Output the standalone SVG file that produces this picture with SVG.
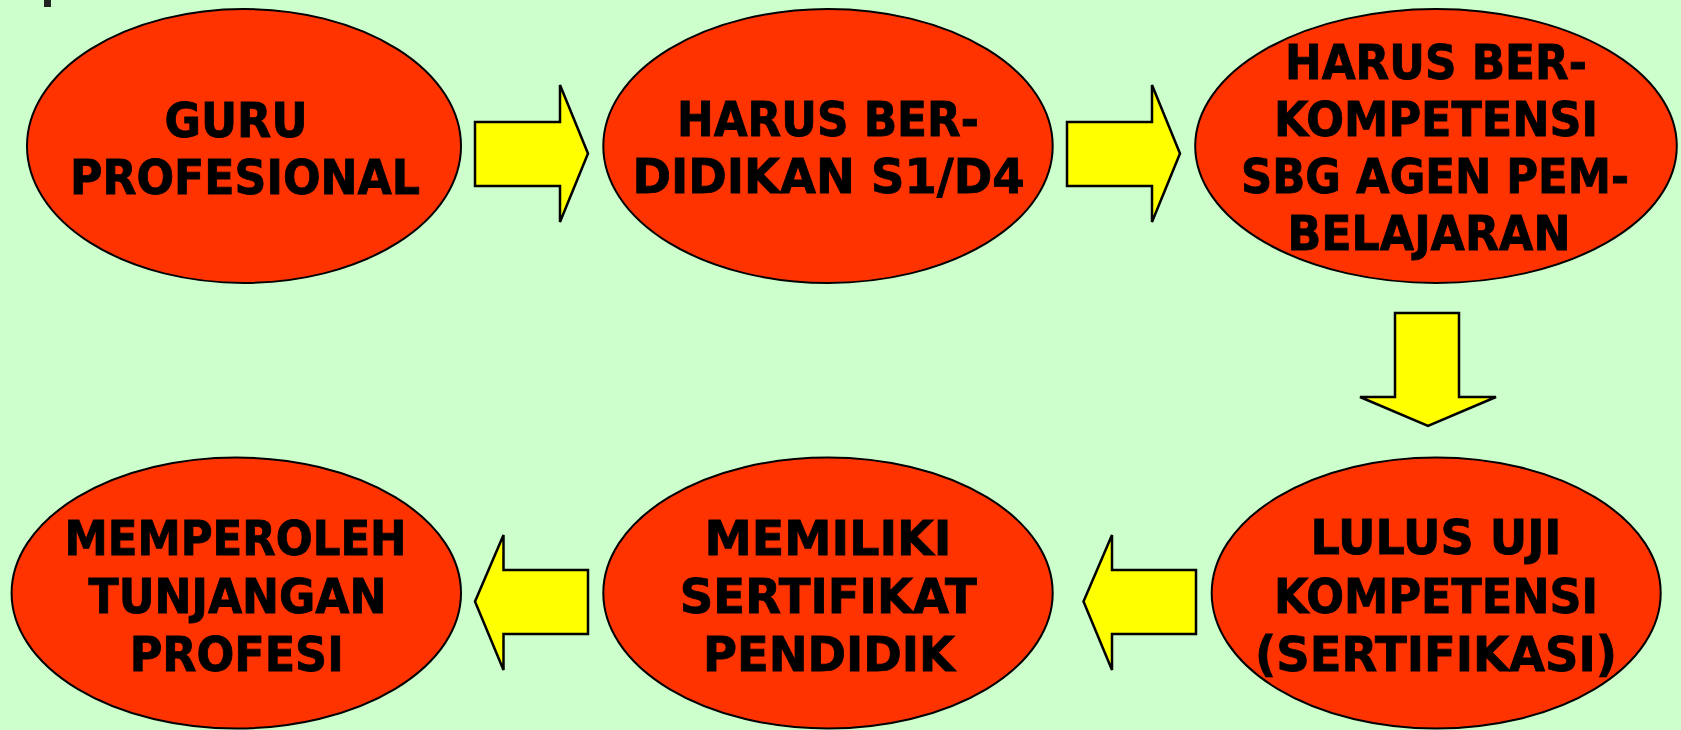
<svg xmlns="http://www.w3.org/2000/svg" width="1681" height="730" viewBox="0 0 1681 730">
<style>
.node ellipse{fill:#FF3300;stroke:#000;stroke-width:2}
.node text{font-family:"DejaVu Sans Condensed","DejaVu Sans",sans-serif;font-stretch:condensed;font-weight:bold;font-size:48px;fill:#000;stroke:#000;stroke-width:0.8;text-anchor:middle}
.arrow{fill:#FFFF00;stroke:#000;stroke-width:2.5;stroke-linejoin:miter}
</style>
<rect x="0" y="0" width="1681" height="730" fill="#CCFFCC"/>
<rect x="44" y="0" width="7" height="7" fill="#222"/>
<g id="connectors">
<polygon class="arrow" points="475,122 560,122 560,85 588,153.5 560,222 560,186 475,186"/>
<polygon class="arrow" points="1067,122 1152,122 1152,85 1180,153.5 1152,222 1152,186 1067,186"/>
<polygon class="arrow" points="1395,313 1459,313 1459,397 1496,397 1428,426 1360,397 1395,397"/>
<polygon class="arrow" points="1196,570 1112,570 1112,535 1083.5,601.5 1112,670 1112,634 1196,634"/>
<polygon class="arrow" points="588,570 503.5,570 503.5,535 475,601.5 503.5,670 503.5,634 588,634"/>
</g>
<g id="node1" class="node">
<ellipse cx="244" cy="146" rx="217" ry="137"/>
<text x="236" y="137" textLength="143" lengthAdjust="spacingAndGlyphs">GURU</text>
<text x="245" y="194" textLength="350" lengthAdjust="spacingAndGlyphs">PROFESIONAL</text>
</g>
<g id="node2" class="node">
<ellipse cx="828" cy="146" rx="224.7" ry="137"/>
<text x="828" y="136" textLength="302" lengthAdjust="spacingAndGlyphs">HARUS BER-</text>
<text x="828.5" y="193" textLength="392" lengthAdjust="spacingAndGlyphs">DIDIKAN S1/D4</text>
</g>
<g id="node3" class="node">
<ellipse cx="1436" cy="146" rx="240.8" ry="137"/>
<text x="1436" y="79" textLength="302" lengthAdjust="spacingAndGlyphs">HARUS BER-</text>
<text x="1436" y="136" textLength="324" lengthAdjust="spacingAndGlyphs">KOMPETENSI</text>
<text x="1435" y="193" textLength="388" lengthAdjust="spacingAndGlyphs">SBG AGEN PEM-</text>
<text x="1429" y="250" textLength="283" lengthAdjust="spacingAndGlyphs">BELAJARAN</text>
</g>
<g id="node4" class="node">
<ellipse cx="1436.2" cy="593" rx="224.5" ry="135.5"/>
<text x="1436" y="554" textLength="251" lengthAdjust="spacingAndGlyphs">LULUS UJI</text>
<text x="1436" y="613" textLength="324" lengthAdjust="spacingAndGlyphs">KOMPETENSI</text>
<text x="1436" y="670.5" textLength="362" lengthAdjust="spacingAndGlyphs">(SERTIFIKASI)</text>
</g>
<g id="node5" class="node">
<ellipse cx="828" cy="593" rx="224.7" ry="135.5"/>
<text x="828" y="555" textLength="247" lengthAdjust="spacingAndGlyphs">MEMILIKI</text>
<text x="828.3" y="613" textLength="297" lengthAdjust="spacingAndGlyphs">SERTIFIKAT</text>
<text x="829" y="670.5" textLength="252" lengthAdjust="spacingAndGlyphs">PENDIDIK</text>
</g>
<g id="node6" class="node">
<ellipse cx="236.3" cy="593" rx="224.7" ry="135.5"/>
<text x="235.5" y="555" textLength="342" lengthAdjust="spacingAndGlyphs">MEMPEROLEH</text>
<text x="237.5" y="613" textLength="298" lengthAdjust="spacingAndGlyphs">TUNJANGAN</text>
<text x="236.7" y="670.5" textLength="214" lengthAdjust="spacingAndGlyphs">PROFESI</text>
</g>
</svg>
